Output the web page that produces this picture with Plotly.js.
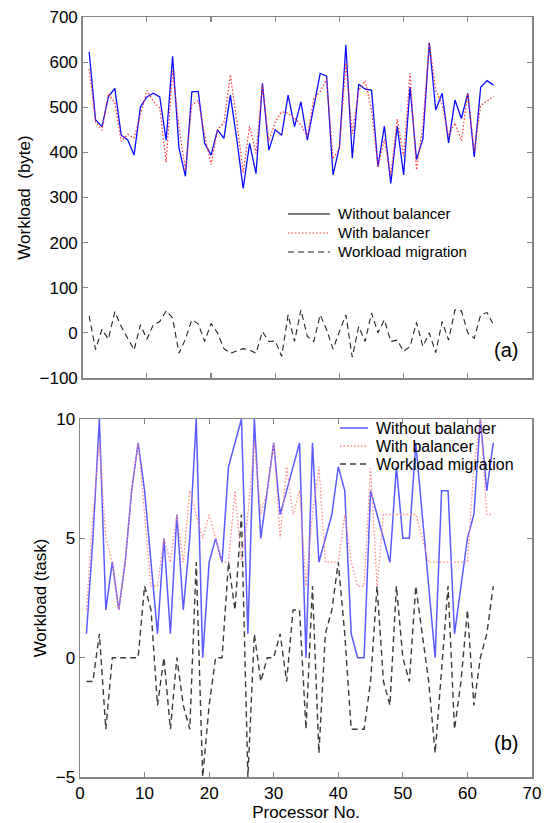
<!DOCTYPE html>
<html>
<head>
<meta charset="utf-8">
<script src="https://cdn.plot.ly/plotly-3.0.1.min.js"></script>
<style>html,body{margin:0;padding:0;background:#fff;}#chart{width:545px;height:823px;}</style>
</head>
<body>
<div id="chart"></div>
<script>
// Processor numbers
var processors = [1,2,3,4,5,6,7,8,9,10,11,12,13,14,15,16,17,18,19,20,21,22,23,24,25,26,27,28,29,30,31,32,
                  33,34,35,36,37,38,39,40,41,42,43,44,45,46,47,48,49,50,51,52,53,54,55,56,57,58,59,60,61,62,63,64];

// (a) workload in bytes
var byteWithout = [623,472,457,523,542,438,428,394,501,523,531,523,427,613,410,347,534,535,420,394,
                   450,431,527,430,320,420,353,553,405,450,438,527,457,512,427,500,575,569,350,412,
                   638,387,551,540,538,368,458,331,458,350,545,384,430,643,494,531,421,516,475,531,
                   390,544,559,549];
var byteWith = [585,468,449,530,510,424,440,432,483,537,513,498,378,580,455,361,505,515,439,373,
                450,466,572,470,355,458,398,550,424,468,490,487,476,461,435,519,535,562,386,409,
                598,441,537,559,494,368,429,350,474,391,575,361,460,643,538,506,437,465,426,531,
                402,504,514,524];
var byteMigration = [38,-37,8,-14,47,14,-12,-38,18,-14,18,25,49,33,-45,-14,29,20,-19,21,
                     0,-35,-45,-40,-35,-38,-45,3,-19,-18,-52,40,-19,51,-8,-19,40,7,-36,3,
                     40,-54,14,-19,44,0,29,-19,-16,-41,-30,23,-30,0,-44,25,-16,51,49,0,
                     -12,40,45,18];

// (b) workload in tasks
var taskWithout = [1,5,10,2,4,2,4,7,9,7,4,1,5,1,6,2,5,10,0,4,
                   5,4,8,9,10,1,10,5,7,9,6,7,8,9,0,9,4,5,6,8,
                   7,1,0,0,7,6,5,4,8,5,5,9,6,3,0,7,7,1,3,5,
                   6,10,7,9];
var taskWith = [2,6,9,5,4,2,4,7,9,6,3,3,5,4,6,4,7,6,5,6,
                5,4,4,7,4,6,9,6,7,9,5,8,6,7,3,6,8,4,4,4,
                6,4,3,3,8,3,6,6,6,6,6,6,5,4,4,4,4,4,4,4,
                8,10,6,6];
var taskMigration = [-1,-1,1,-3,0,0,0,0,0,3,2,-2,0,-3,0,-2,-3,4,-5,-2,
                     0,0,4,2,6,-5,1,-1,0,0,1,-1,2,2,-3,3,-4,1,2,4,
                     1,-3,-3,-3,-1,3,-1,-2,3,0,-1,3,1,-1,-4,-0.5,3,-3,-1,2,
                     -2,0,1,3];

var seriesNames = ['Without balancer', 'With balancer', 'Workload migration'];
var byteTicks = [-100,0,100,200,300,400,500,600,700];
var taskTicks = [-5,0,5,10];
var xTicks = [0,10,20,30,40,50,60,70];

var FONT = 'Liberation Sans, Arial, Helvetica, sans-serif';
var AX = '#858585';

var styleA = [
  {color:'#0a0aff', width:1.3, dash:'solid'},
  {color:'#ff3030', width:1.2, dash:'1.5px,2px'},
  {color:'#222222', width:1.1, dash:'6px,4px'}
];
var styleB = [
  {color:'#5a5aff', width:1.5, dash:'solid'},
  {color:'#ff8a8a', width:1.3, dash:'1.5px,2px'},
  {color:'#3a3a3a', width:1.4, dash:'6px,4px'}
];
// legend sample styles (panel (a) legend shows a black solid sample)
var legendA = [
  {color:'#000000', width:1, dash:'solid'},
  {color:'#ff3030', width:1.2, dash:'1.5px,2px'},
  {color:'#222222', width:1.1, dash:'6px,4px'}
];

var traces = [
  {x: processors, y: byteWithout, xaxis:'x', yaxis:'y', type:'scatter', mode:'lines', line:styleA[0], name:seriesNames[0]},
  {x: processors, y: byteWith, xaxis:'x', yaxis:'y', type:'scatter', mode:'lines', line:styleA[1], name:seriesNames[1]},
  {x: processors, y: byteMigration, xaxis:'x', yaxis:'y', type:'scatter', mode:'lines', line:styleA[2], name:seriesNames[2]},
  {x: processors, y: taskWithout, xaxis:'x2', yaxis:'y2', type:'scatter', mode:'lines', line:styleB[0], name:seriesNames[0]},
  {x: processors, y: taskWith, xaxis:'x2', yaxis:'y2', type:'scatter', mode:'lines', line:styleB[1], name:seriesNames[1]},
  {x: processors, y: taskMigration, xaxis:'x2', yaxis:'y2', type:'scatter', mode:'lines', line:styleB[2], name:seriesNames[2]}
];

function axisBase() {
  return {showline:true, linecolor:AX, linewidth:1.5, mirror:'allticks', ticks:'inside',
          ticklen:5, tickwidth:1.2, tickcolor:AX, showgrid:false, zeroline:false,
          tickfont:{family:FONT, size:17, color:'#000'}};
}

var xa = axisBase(); xa.range=[0,70]; xa.tickvals=xTicks; xa.showticklabels=false; xa.domain=[0.006,1]; xa.anchor='y';
var ya = axisBase(); ya.range=[-100,700]; ya.tickvals=byteTicks; ya.domain=[0.525,1]; ya.anchor='x';
ya.title={text:'Workload\u00a0 (byte)', font:{family:FONT, size:17, color:'#000'}, standoff:4};
var xa2 = axisBase(); xa2.range=[0,70]; xa2.tickvals=xTicks; xa2.domain=[0,1]; xa2.anchor='y2';
xa2.title={text:'Processor No.', font:{family:FONT, size:17, color:'#000'}, standoff:2};
var ya2 = axisBase(); ya2.range=[-5,10]; ya2.tickvals=taskTicks; ya2.domain=[0,0.471]; ya2.anchor='x2';
ya2.title={text:'Workload (task)', font:{family:FONT, size:17, color:'#000'}, standoff:5};

// hand-placed legends (paper coordinates)
function buildLegend(styles, x0, x1, xt, rows, fsize, shapes, annos) {
  for (var i = 0; i < seriesNames.length; i++) {
    shapes.push({type:'line', xref:'paper', yref:'paper', x0:x0, x1:x1, y0:rows[i], y1:rows[i],
                 line:{color:styles[i].color, width:styles[i].width, dash:styles[i].dash}});
    annos.push({text:seriesNames[i], xref:'paper', yref:'paper', x:xt, y:rows[i],
                xanchor:'left', yanchor:'middle', showarrow:false,
                font:{family:FONT, size:fsize, color:'#000'}});
  }
}
var shapes = [], annos = [];
buildLegend(legendA, 0.4602, 0.5531, 0.5664, [0.7408, 0.7158, 0.6908], 15, shapes, annos);
buildLegend(styleB, 0.5752, 0.6372, 0.6504, [0.4592, 0.4355, 0.4118], 16, shapes, annos);
annos.push({text:'(a)', xref:'paper', yref:'paper', x:0.942, y:0.562, xanchor:'center', yanchor:'middle',
            showarrow:false, font:{family:FONT, size:20, color:'#000'}});
annos.push({text:'(b)', xref:'paper', yref:'paper', x:0.942, y:0.045, xanchor:'center', yanchor:'middle',
            showarrow:false, font:{family:FONT, size:20, color:'#000'}});

var layout = {
  width:545, height:823,
  margin:{l:80, r:13, t:17, b:46},
  paper_bgcolor:'#fff', plot_bgcolor:'#fff',
  font:{family:FONT, size:15, color:'#000'},
  showlegend:false,
  xaxis:xa, yaxis:ya, xaxis2:xa2, yaxis2:ya2,
  shapes:shapes,
  annotations:annos
};

Plotly.newPlot('chart', traces, layout, {displayModeBar:false, staticPlot:true});
</script>
</body>
</html>
